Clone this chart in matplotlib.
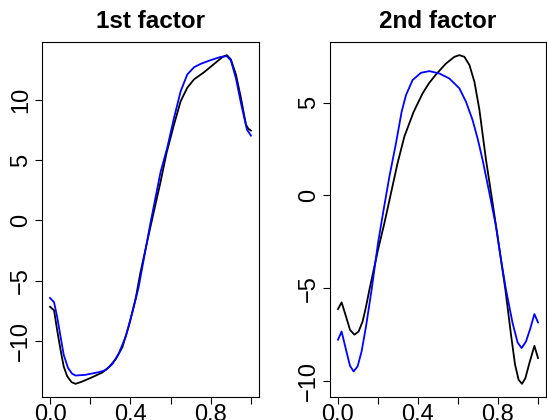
import numpy as np
import matplotlib
matplotlib.use("Agg")
import matplotlib.pyplot as plt

plt.rcParams['font.family'] = ['Liberation Sans', 'DejaVu Sans']

# 1st factor
x1_black = [0.0, 0.02, 0.035, 0.052, 0.068, 0.085, 0.107, 0.127, 0.16, 0.21, 0.26, 0.293,
            0.327, 0.36, 0.393, 0.427, 0.45, 0.5, 0.55, 0.58, 0.617, 0.65, 0.683, 0.717,
            0.767, 0.817, 0.858, 0.88, 0.9, 0.925, 0.95, 0.975, 0.987, 1.0]
y1_black = [-7.15, -7.45, -9.05, -10.7, -12.1, -12.9, -13.4, -13.54, -13.35, -12.99, -12.6, -12.15,
            -11.5, -10.5, -8.7, -6.4, -4.3, -0.5, 3.2, 5.6, 7.95, 9.88, 11.0, 11.7,
            12.29, 12.98, 13.54, 13.7, 13.35, 12.1, 10.16, 7.95, 7.6, 7.45]
x1_blue = [0.0, 0.02, 0.035, 0.052, 0.068, 0.09, 0.11, 0.127, 0.177, 0.243, 0.277, 0.31,
           0.343, 0.377, 0.41, 0.44, 0.5, 0.55, 0.583, 0.617, 0.65, 0.683, 0.717, 0.75,
           0.8, 0.85, 0.88, 0.9, 0.925, 0.95, 0.98, 1.0]
y1_blue = [-6.42, -6.78, -7.95, -9.6, -11.13, -12.24, -12.7, -12.85, -12.79, -12.57, -12.4, -11.9,
           -11.0, -9.6, -7.6, -5.6, -0.2, 4.0, 6.0, 8.5, 10.7, 12.1, 12.7, 12.98,
           13.29, 13.56, 13.62, 13.26, 11.8, 9.74, 7.53, 7.03]

# 2nd factor
x2_black = [0.0, 0.018, 0.04, 0.06, 0.082, 0.103, 0.123, 0.14, 0.157, 0.2, 0.232, 0.265,
            0.298, 0.332, 0.378, 0.423, 0.455, 0.49, 0.54, 0.582, 0.607, 0.632, 0.657, 0.682,
            0.707, 0.74, 0.773, 0.798, 0.815, 0.837, 0.865, 0.885, 0.903, 0.92, 0.937,
            0.957, 0.982, 1.0]
y2_black = [-6.12, -5.76, -6.52, -7.24, -7.5, -7.33, -6.79, -6.0, -5.08, -2.93, -1.49, 0.13,
            1.75, 3.18, 4.5, 5.5, 6.05, 6.52, 7.11, 7.47, 7.56, 7.47, 7.03, 6.13,
            4.62, 1.92, -0.41, -2.21, -3.46, -5.08, -7.5, -9.1, -9.93, -10.15, -9.84,
            -9.03, -8.1, -8.76]
x2_blue = [0.0, 0.018, 0.04, 0.06, 0.078, 0.098, 0.118, 0.14, 0.168, 0.2, 0.228, 0.257,
           0.29, 0.318, 0.34, 0.373, 0.415, 0.457, 0.507, 0.557, 0.607, 0.64, 0.673,
           0.698, 0.723, 0.757, 0.79, 0.815, 0.84, 0.873, 0.898, 0.918, 0.94, 0.962,
           0.982, 1.0]
y2_blue = [-7.77, -7.33, -8.31, -9.18, -9.48, -9.21, -8.4, -7.06, -5.08, -2.57, -0.77, 1.02,
           2.82, 4.5, 5.41, 6.22, 6.61, 6.7, 6.57, 6.3, 5.77, 5.05, 4.06,
           3.07, 1.92, 0.13, -1.67, -3.46, -5.08, -6.88, -7.92, -8.22, -7.87, -7.15,
           -6.39, -6.84]

titles = ['1st factor', '2nd factor']
yticks = [[-10, -5, 0, 5, 10], [-10, -5, 0, 5]]
xticks = [0.0, 0.2, 0.4, 0.6, 0.8, 1.0]
xticklabels = ['0.0', '', '0.4', '', '0.8', '']

fig = plt.figure(figsize=(5.47, 4.2), dpi=100)
ax1 = fig.add_axes([42/547, 23/420, 217/547, 355/420])
ax2 = fig.add_axes([330/547, 23/420, 216/547, 355/420])

data = [(x1_black, y1_black, x1_blue, y1_blue), (x2_black, y2_black, x2_blue, y2_blue)]
for ax, (xb, yb, xu, yu), title, yt in zip([ax1, ax2], data, titles, yticks):
    ax.plot(xb, yb, color='black', lw=1.3)
    ax.plot(xu, yu, color='blue', lw=1.3)
    ax.margins(0.04)
    ax.set_title(title, fontsize=17.5, fontweight='bold', pad=10)
    ax.set_xticks(xticks)
    ax.set_xticklabels(xticklabels)
    ax.set_yticks(yt)
    ax.set_yticklabels([str(v).replace('-', '\u2212') for v in yt])
    ax.tick_params(axis='both', labelsize=17, length=5, width=0.8, direction='out')
    ax.tick_params(axis='x', pad=0)
    ax.tick_params(axis='y', pad=2, labelrotation=90)
    for lab in ax.get_yticklabels():
        lab.set_va('center')
    for sp in ax.spines.values():
        sp.set_linewidth(0.8)

fig.savefig('out.png', dpi=100)
